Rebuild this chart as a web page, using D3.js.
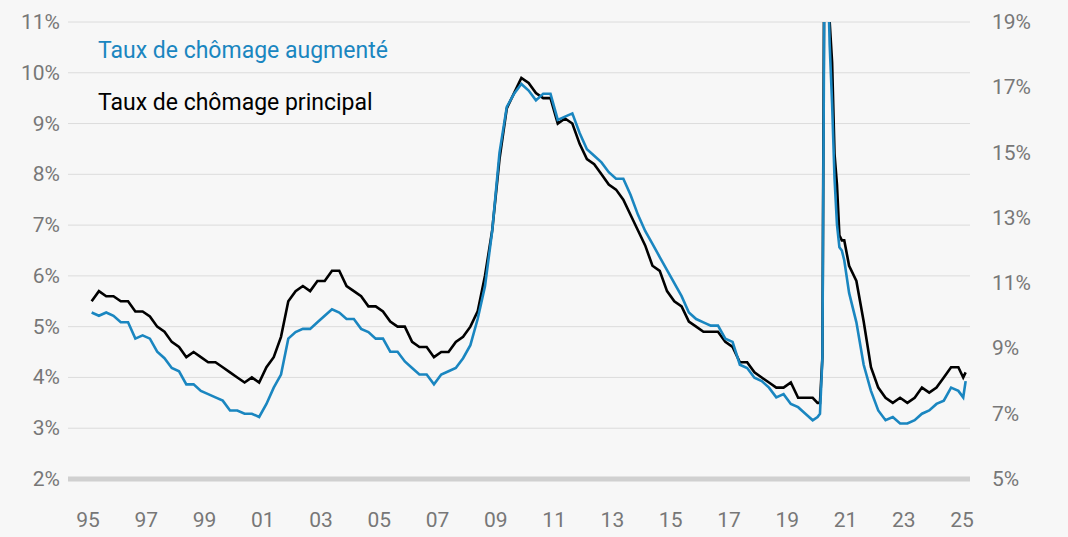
<!DOCTYPE html>
<html><head><meta charset="utf-8">
<script src="https://cdn.jsdelivr.net/npm/d3@7"></script>
<style>body{margin:0;background:#f7f7f7}svg{display:block}</style>
</head><body>
<script>
// quarterly 1995-2019, monthly 2020, quarterly 2021-2024, then Jan/Feb 2025
let principal = [
 5.5,5.7,5.6,5.6, 5.5,5.5,5.3,5.3, 5.2,5.0,4.9,4.7, 4.6,4.4,4.5,4.4, 4.3,4.3,4.2,4.1,
 4.0,3.9,4.0,3.9, 4.2,4.4,4.8,5.5, 5.7,5.8,5.7,5.9, 5.9,6.1,6.1,5.8, 5.7,5.6,5.4,5.4,
 5.3,5.1,5.0,5.0, 4.7,4.6,4.6,4.4, 4.5,4.5,4.7,4.8, 5.0,5.3,6.0,6.9, 8.3,9.3,9.6,9.9,
 9.8,9.6,9.5,9.5, 9.0,9.1,9.0,8.6, 8.3,8.2,8.0,7.8, 7.7,7.5,7.2,6.9, 6.6,6.2,6.1,5.7,
 5.5,5.4,5.1,5.0, 4.9,4.9,4.9,4.7, 4.6,4.3,4.3,4.1, 4.0,3.9,3.8,3.8, 3.9,3.6,3.6,3.6,
 3.5,3.5,4.4,14.8,13.2,11.0,10.2,8.4,7.8,6.8,6.7,6.7,
 6.2,5.9,5.1,4.2, 3.8,3.6,3.5,3.6, 3.5,3.6,3.8,3.7, 3.8,4.0,4.2,4.2,
 4.0,4.1];
let augmente = [
 10.1,10.0,10.1,10.0, 9.8,9.8,9.3,9.4, 9.3,8.9,8.7,8.4, 8.3,7.9,7.9,7.7, 7.6,7.5,7.4,7.1,
 7.1,7.0,7.0,6.9, 7.3,7.8,8.2,9.3, 9.5,9.6,9.6,9.8, 10.0,10.2,10.1,9.9, 9.9,9.6,9.5,9.3,
 9.3,8.9,8.9,8.6, 8.4,8.2,8.2,7.9, 8.2,8.3,8.4,8.7, 9.1,9.9,10.9,12.6, 15.0,16.4,16.8,17.1,
 16.9,16.6,16.8,16.8, 16.0,16.1,16.2,15.6, 15.1,14.9,14.7,14.4, 14.2,14.2,13.7,13.1, 12.6,12.2,11.8,11.4,
 11.0,10.6,10.1,9.9, 9.8,9.7,9.7,9.3, 9.2,8.5,8.4,8.1, 8.0,7.8,7.5,7.6, 7.3,7.2,7.0,6.8,
 6.9,7.0,8.7,22.9,21.2,18.3,16.5,14.2,12.8,12.1,12.0,11.7,
 10.7,9.8,8.5,7.7, 7.1,6.8,6.9,6.7, 6.7,6.8,7.0,7.1, 7.3,7.4,7.8,7.7,
 7.5,8.0];
let leftTicks = [2,3,4,5,6,7,8,9,10,11];
let rightTicks = [5,7,9,11,13,15,17,19];
let yearTicks = [1995,1997,1999,2001,2003,2005,2007,2009,2011,2013,2015,2017,2019,2021,2023,2025];

let dates = [];
for (let y = 1995; y <= 2019; y++) for (let q = 0; q < 4; q++) dates.push(y + (q*3+1.5)/12);
for (let m = 0; m < 12; m++) dates.push(2020 + (m+0.5)/12);
for (let y = 2021; y <= 2024; y++) for (let q = 0; q < 4; q++) dates.push(y + (q*3+1.5)/12);
dates.push(2025 + 0.5/12, 2025 + 1.5/12);

let w = 1068, h = 537;
let svg = d3.select("body").append("svg").attr("width", w).attr("height", h);
let x = d3.scaleLinear().domain([1995, 2025]).range([88, 962]);
let yL = d3.scaleLinear().domain([2, 11]).range([479, 22]);
let yR = d3.scaleLinear().domain([5, 19]).range([479, 22]);

svg.append("clipPath").attr("id", "clip").append("rect")
  .attr("x", 60).attr("y", 22).attr("width", 920).attr("height", 457);

svg.selectAll(".grid").data(leftTicks.slice(1)).enter().append("line")
  .attr("x1", 68).attr("x2", 970).attr("y1", d => yL(d)).attr("y2", d => yL(d))
  .attr("stroke", "#dcdcdc").attr("stroke-width", 1);
svg.append("line").attr("x1", 68).attr("x2", 970).attr("y1", yL(2)).attr("y2", yL(2))
  .attr("stroke", "#d0d0d0").attr("stroke-width", 5);

let tf = "Roboto, sans-serif";
svg.selectAll(".lt").data(leftTicks).enter().append("text")
  .attr("x", 60).attr("y", d => yL(d) + 7).attr("text-anchor", "end")
  .attr("font-family", tf).attr("font-size", "21px").attr("fill", "#777").text(d => d + "%");
svg.selectAll(".rt").data(rightTicks).enter().append("text")
  .attr("x", 992).attr("y", d => yR(d) + 7)
  .attr("font-family", tf).attr("font-size", "21px").attr("fill", "#777").text(d => d + "%");
svg.selectAll(".xt").data(yearTicks).enter().append("text")
  .attr("x", d => x(d)).attr("y", 527).attr("text-anchor", "middle")
  .attr("font-family", tf).attr("font-size", "21px").attr("fill", "#777")
  .text(d => String(d % 100).padStart(2, "0"));

let g = svg.append("g").attr("clip-path", "url(#clip)");
g.append("path").datum(principal)
  .attr("d", d3.line().x((d, i) => x(dates[i])).y(d => yL(d)))
  .attr("fill", "none").attr("stroke", "#000").attr("stroke-width", 2.6);
g.append("path").datum(augmente)
  .attr("d", d3.line().x((d, i) => x(dates[i])).y(d => yR(d)))
  .attr("fill", "none").attr("stroke", "#1a86c0").attr("stroke-width", 2.6);

svg.append("text").attr("x", 98).attr("y", 58).attr("font-family", tf).attr("font-size", "23px")
  .attr("fill", "#1a86c0").text("Taux de chômage augmenté");
svg.append("text").attr("x", 98).attr("y", 110).attr("font-family", tf).attr("font-size", "23px")
  .attr("fill", "#000").text("Taux de chômage principal");
</script>
</body></html>
